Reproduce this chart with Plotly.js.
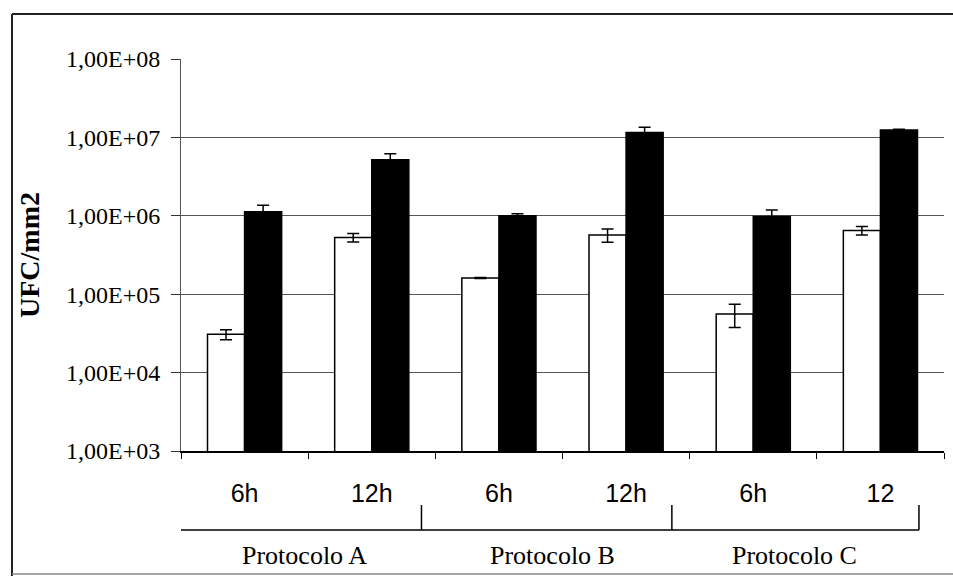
<!DOCTYPE html>
<html>
<head>
<meta charset="utf-8">
<script src="https://cdn.plot.ly/plotly-3.0.1.min.js"></script>
<style>
html,body{margin:0;padding:0;background:#fff;}
#chart{width:953px;height:576px;}
</style>
</head>
<body>
<div id="chart"></div>
<script>
// Category positions (6h / 12h for each protocol)
var positions = [0, 1, 2, 3, 4, 5];
var tickLabels = ["6h", "12h", "6h", "12h", "6h", "12"];
var groups = ["Protocolo A", "Protocolo B", "Protocolo C"];

// Series 1 (white bars) and series 2 (black bars), UFC/mm2
var whiteValues = [3.08e4, 5.3e5, 1.61e5, 5.7e5, 5.6e4, 6.5e5];
var whiteErrors = [4.5e3, 6.5e4, 2e3, 1.1e5, 1.85e4, 8e4];
var blackValues = [1.13e6, 5.2e6, 1.0e6, 1.16e7, 9.8e5, 1.24e7];
var blackErrors = [2.3e5, 1.0e6, 6e4, 1.9e6, 2.1e5, 3e5];

// Y axis ticks
var yTickVals = [1e3, 1e4, 1e5, 1e6, 1e7, 1e8];
var yTickText = ["1,00E+03", "1,00E+04", "1,00E+05", "1,00E+06", "1,00E+07", "1,00E+08"];

var serif = "Liberation Serif, Times New Roman, serif";
var sans = "Liberation Sans, Arial, sans-serif";

var traces = [
  {
    type: "bar", name: "Série 1", x: positions, y: whiteValues,
    marker: {color: "#ffffff", line: {color: "#000000", width: 1.5}},
    error_y: {type: "data", array: whiteErrors, visible: true, color: "#000000", thickness: 1.5, width: 6}
  },
  {
    type: "bar", name: "Série 2", x: positions, y: blackValues,
    marker: {color: "#000000", line: {color: "#000000", width: 1.5}},
    error_y: {type: "data", array: blackErrors, visible: true, color: "#000000", thickness: 1.5, width: 6}
  }
];

// bracket x positions (in category units) and label centers
var bracketX = [-0.555, 1.391, 3.36, 5.303];
var groupCenters = [0.475, 2.425, 4.328];

var shapes = [];
// bracket horizontal line
shapes.push({type: "line", xref: "x", yref: "paper", x0: bracketX[0], x1: bracketX[3], y0: -0.2015, y1: -0.2015, line: {color: "#000", width: 1.5}});
bracketX.forEach(function (bx) {
  shapes.push({type: "line", xref: "x", yref: "paper", x0: bx, x1: bx, y0: -0.1378, y1: -0.2015, line: {color: "#000", width: 1.5}});
});
// outer frame
shapes.push({type: "line", xref: "paper", yref: "paper", x0: -0.2215, x1: 1.02, y0: 1.1148, y1: 1.1148, line: {color: "#222", width: 2}});
shapes.push({type: "line", xref: "paper", yref: "paper", x0: -0.2215, x1: -0.2215, y0: 1.1148, y1: -0.32, line: {color: "#222", width: 2}});
shapes.push({type: "line", xref: "paper", yref: "paper", x0: -0.2215, x1: 1.02, y0: -0.3138, y1: -0.3138, line: {color: "#888", width: 1.5}});

var annotations = groups.map(function (g, i) {
  return {text: g, xref: "x", yref: "paper", x: groupCenters[i], y: -0.266, xanchor: "center", yanchor: "middle",
    showarrow: false, font: {family: serif, size: 26, color: "#000"}};
});

var layout = {
  width: 953, height: 576,
  margin: {l: 181, r: 9, t: 59, b: 125},
  paper_bgcolor: "#ffffff", plot_bgcolor: "#ffffff",
  showlegend: false,
  barmode: "group", bargap: 0.417, bargroupgap: 0,
  xaxis: {
    range: [-0.5, 5.5], tickvals: positions, ticktext: tickLabels,
    ticks: "", ticklabelstandoff: 19,
    minor: {ticks: "outside", tick0: 0.5, dtick: 1, ticklen: 6, tickcolor: "#000", tickwidth: 1, showgrid: false},
    showgrid: false, zeroline: false, showline: true, linecolor: "#000", linewidth: 1.5,
    tickfont: {family: sans, size: 25, color: "#000"}
  },
  yaxis: {
    type: "log", range: [3, 8.0005], tickvals: yTickVals, ticktext: yTickText,
    ticks: "outside", ticklen: 9, tickcolor: "#333", tickwidth: 1, ticklabelstandoff: 6,
    showgrid: true, gridcolor: "#555", gridwidth: 1,
    showline: true, linecolor: "#555", linewidth: 1, zeroline: false,
    tickfont: {family: serif, size: 24, color: "#000"},
    title: {text: "<b>UFC/mm2</b>", font: {family: serif, size: 28, color: "#000"}, standoff: 18}
  },
  shapes: shapes,
  annotations: annotations
};

Plotly.newPlot("chart", traces, layout, {displayModeBar: false, staticPlot: true});
</script>
</body>
</html>
